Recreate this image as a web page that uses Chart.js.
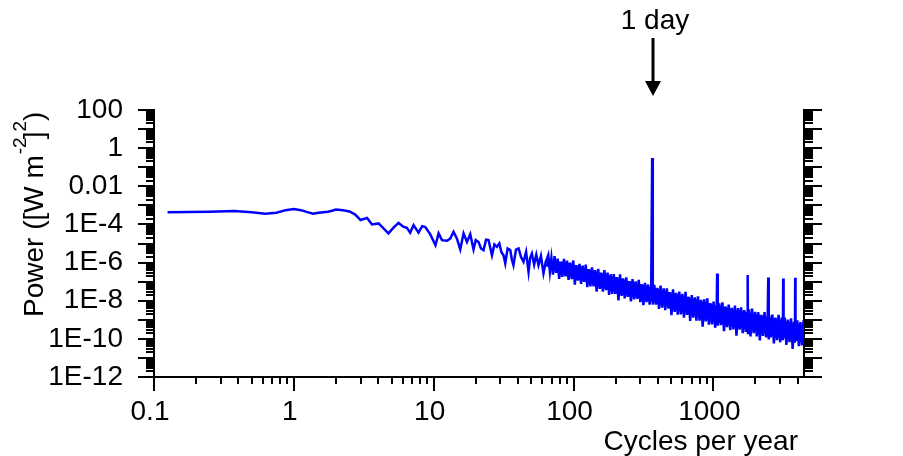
<!DOCTYPE html>
<html>
<head>
<meta charset="utf-8">
<script src="https://cdn.jsdelivr.net/npm/chart.js@4.4.1/dist/chart.umd.min.js"></script>
<style>
  html, body { margin: 0; padding: 0; background: #fff; }
  #wrap { width: 903px; height: 456px; }
</style>
</head>
<body>
<div id="wrap"><canvas id="chart-power" width="903" height="456"></canvas></div>
<script>
// ── power spectrum, log-log, daily cycle marked with an arrow ──
const X_TICKS = [0.1, 1, 10, 100, 1000];
const X_TICK_LABELS = ["0.1", "1", "10", "100", "1000"];
const Y_TICKS = [1e-12, 1e-10, 1e-8, 1e-6, 1e-4, 0.01, 1, 100];
const Y_TICK_LABELS = ["1E-12", "1E-10", "1E-8", "1E-6", "1E-4", "0.01", "1", "100"];
const X_MIN = 0.1, X_MAX = 4450;
const Y_MIN = 1e-12, Y_MAX = 100;
const DAY_FREQ = 365.25;

// cycles per year
const freq = [
  // low frequencies (thin line)
  0.125, 0.25, 0.375, 0.5, 0.625, 0.75, 0.875, 1, 1.125, 1.25,
  1.375, 1.5, 1.625, 1.75, 1.875, 2, 2.25, 2.5, 2.75, 3,
  3.34, 3.62, 4.04, 4.36, 4.75, 5.2, 5.61, 6.06, 6.43, 6.79,
  7.18, 7.79, 8.28, 8.71, 9.46, 10.3, 10.84, 11.47, 12.45, 13.14,
  13.88, 14.67, 15.49, 16.36, 17.3, 18.26, 19.28, 20.0, 20.94, 21.8,
  22.73, 23.7, 24.69, 25.4, 26.11, 27.2, 28.35, 29.5, 30.5, 31.6,
  32.5, 33.8, 35.3, 36.2, 37.2, 38.8, 40.5, 42.1, 43.9, 45.8,
  47.7, 49.0, 50.4, 52.3, 54.2, 56.2, 58.5, 61.0, 63.2,
  // dense noisy band
  66, 67.8, 69.5, 71.3, 73.2, 75.1, 77, 79, 81, 83.2,
  85.4, 87.6, 89.9, 92.2, 94.6, 97.1, 99.6, 102.2, 104.9, 107.6,
  110.4, 113.3, 116.2, 119.2, 122.3, 125.5, 128.8, 132.1, 135.6, 139.1,
  142.7, 146.4, 150.2, 154.1, 158.1, 162.2, 166.4, 170.8, 175.2, 179.8,
  184.5, 189.3, 194.2, 199.2, 204.4, 209.7, 215.2, 220.8, 226.5, 232.4,
  238.4, 244.6, 251, 257.5, 264.2, 271.1, 278.1, 285.4, 292.8, 300.4,
  308.2, 316.2, 324.4, 332.9, 341.5, 350.4, 359.5, 365.2, 369, 378.5,
  388.4, 398.5, 408.8, 419.5, 430.4, 441.6, 453.1, 464.8, 476.9, 489.3,
  502, 515.1, 528.5, 542.2, 556.3, 570.8, 585.6, 600.8, 616.5, 632.5,
  649, 665.8, 683.1, 700.9, 719.1, 737.8, 757, 776.7, 796.9, 817.6,
  838.9, 860.7, 883.1, 906, 929.6, 953.8, 978.6, 1004, 1030, 1057,
  1065, 1076, 1104, 1133, 1162, 1192, 1223, 1255, 1288, 1321,
  1356, 1391, 1427, 1464, 1502, 1541, 1581, 1623, 1665, 1708,
  1752, 1760, 1770, 1797, 1844, 1892, 1941, 1992, 2044, 2097,
  2151, 2207, 2265, 2324, 2384, 2446, 2470, 2490, 2510, 2576,
  2643, 2711, 2782, 2854, 2928, 3004, 3083, 3140, 3160, 3180,
  3245, 3330, 3416, 3505, 3597, 3690, 3786, 3830, 3850, 3870,
  3985, 4089, 4195, 4304, 4416, 4450,
];

// power, same order as freq
const power = [
  4.3e-4, 4.6e-4, 5.0e-4, 4.4e-4, 3.6e-4, 4.1e-4, 5.6e-4, 6.4e-4, 5.6e-4, 4.4e-4,
  3.6e-4, 4.1e-4, 4.4e-4, 4.6e-4, 5.2e-4, 6.1e-4, 5.6e-4, 4.8e-4, 3.3e-4, 1.7e-4,
  2.2e-4, 1.0e-4, 1.13e-4, 6.4e-5, 3.4e-5, 7.2e-5, 1.2e-4, 7.6e-5, 6.6e-5, 3.7e-5,
  9.2e-5, 3.7e-5, 8.1e-5, 7.2e-5, 3.0e-5, 8.1e-6, 3.4e-5, 1.5e-5, 1.4e-5, 1.8e-5,
  4.1e-5, 1.8e-5, 4.9e-6, 3.4e-5, 1.2e-5, 3.1e-5, 4.9e-6, 1.5e-5, 1.2e-5, 5.5e-6,
  4.5e-6, 1.6e-5, 1.5e-5, 6.0e-6, 2.4e-6, 9.0e-6, 6.7e-6, 1.0e-5, 3.5e-6, 2.4e-6,
  9.0e-7, 5.5e-6, 4.5e-6, 1.5e-6, 7.3e-7, 4.8e-6, 5.5e-6, 2.0e-6, 1.09e-6, 3.6e-6,
  3.25e-7, 1.8e-6, 3.0e-6, 8.0e-7, 2.6e-6, 7.3e-7, 2.2e-6, 2.7e-7, 1.0e-6,

  2.5e-6, 3.3e-7, 1.7e-6, 2.3e-7, 2.2e-6, 2.9e-7, 1.6e-6, 1.4e-7, 1.1e-6, 1.8e-7,
  1.55e-6, 1.9e-7, 1.26e-6, 1.23e-7, 1.0e-6, 1.35e-7, 1.29e-6, 6.9e-8, 7.4e-7, 1.12e-7,
  8.5e-7, 7.6e-8, 6.9e-7, 9.8e-8, 7.8e-7, 5.1e-8, 4.6e-7, 5.6e-8, 5.6e-7, 5.6e-8,
  4.0e-7, 3.0e-8, 4.7e-7, 4.2e-8, 3.0e-7, 2.95e-8, 4.0e-7, 3.6e-8, 2.95e-7, 2.0e-8,
  2.45e-7, 2.3e-8, 2.5e-7, 2.3e-8, 1.74e-7, 1.05e-8, 2.4e-7, 1.78e-8, 1.5e-7, 1.32e-8,
  1.66e-7, 1.58e-8, 1.07e-7, 9.1e-9, 1.38e-7, 1.17e-8, 1.05e-7, 1.26e-8, 1.23e-7, 8.3e-9,
  7.4e-8, 5.9e-9, 8.7e-8, 8.5e-9, 7.1e-8, 6.2e-9, 6.6e-8, 0.30, 6.3e-9, 6.8e-8,
  6.3e-9, 4.7e-8, 3.7e-9, 6.3e-8, 4.3e-9, 4.4e-8, 3.2e-9, 4.5e-8, 3.9e-9, 2.8e-8,
  1.74e-9, 3.9e-8, 2.6e-9, 2.6e-8, 1.86e-9, 3.0e-8, 1.9e-9, 2.3e-8, 1.29e-9, 2.9e-8,
  1.78e-9, 1.62e-8, 8.7e-10, 2.0e-8, 1.29e-9, 1.51e-8, 9.1e-10, 1.7e-8, 9.1e-10, 1.12e-8,
  4.4e-10, 1.2e-8, 8.3e-10, 1.32e-8, 5.5e-10, 7.6e-9, 5.8e-10, 9.1e-9, 3.8e-10, 5.2e-9,
  2.7e-7, 4.9e-10, 7.2e-9, 5.2e-10, 8.3e-9, 2.5e-10, 5.1e-9, 4.1e-10, 6.2e-9, 2.9e-10,
  4.2e-9, 3.1e-10, 5.6e-9, 1.45e-10, 4.1e-9, 3.0e-10, 4.5e-9, 2.0e-10, 3.2e-9, 2.3e-10,
  2.3e-9, 2.2e-7, 2.0e-10, 3.5e-9, 1.35e-10, 3.9e-9, 2.0e-10, 2.6e-9, 1.35e-10, 2.5e-9,
  8.3e-11, 1.82e-9, 1.41e-10, 2.5e-9, 1.2e-10, 1.29e-9, 1.66e-7, 9.3e-11, 1.74e-9, 1.2e-10,
  1.86e-9, 5.8e-11, 1.32e-9, 8.5e-11, 1.82e-9, 6.6e-11, 1.32e-9, 8.5e-11, 1.47e-7, 1.8e-10,
  1.32e-9, 4.8e-11, 1.02e-9, 6.8e-11, 1.2e-9, 3.0e-11, 7.9e-10, 6.3e-11, 1.58e-7, 8.5e-11,
  9.5e-10, 4.1e-11, 7.6e-10, 4.5e-11, 9.5e-10, 5.0e-11,
];

const bandFreq = [62, 85, 100, 150, 200, 300, 450, 600, 800, 1000, 1400, 2000, 3000, 4450];
const bandUpper = [1.3e-6, 1.1e-6, 7.9e-7, 3.1e-7, 1.7e-7, 7.4e-8, 3.2e-8, 1.86e-8, 1.0e-8, 6.2e-9, 3.6e-9, 2.0e-9, 9.8e-10, 5.4e-10];
const bandLower = [7.0e-7, 2.4e-7, 1.6e-7, 5.8e-8, 2.8e-8, 1.3e-8, 5.4e-9, 2.7e-9, 1.38e-9, 8.1e-10, 4.6e-10, 2.5e-10, 1.17e-10, 6.5e-11];

const FONT = '"Liberation Sans", Arial, sans-serif';
Chart.defaults.font.family = FONT;
Chart.defaults.color = "#000";

// tick marks (major per decade, minor 2..9), axis titles and the "1 day" arrow
const axisMarks = {
  id: "axisMarks",
  afterDraw(chart) {
    const { ctx, chartArea: a, scales } = chart;
    const x = scales.x, y = scales.y;
    ctx.save();
    ctx.strokeStyle = "#000";
    ctx.lineWidth = 2;
    ctx.beginPath();
    for (let e = -1; e <= 3; e++) {
      for (let m = 1; m <= 9; m++) {
        const v = m * Math.pow(10, e);
        if (v > X_MAX) break;
        const px = Math.round(x.getPixelForValue(v));
        ctx.moveTo(px, a.bottom);
        ctx.lineTo(px, a.bottom + (m === 1 ? 14 : 7));
      }
    }
    for (let e = -12; e <= 2; e++) {
      for (let m = 1; m <= 9; m++) {
        const v = m * Math.pow(10, e);
        if (v > Y_MAX * 1.0001) break;
        const py = Math.round(y.getPixelForValue(v));
        ctx.moveTo(a.left, py);
        ctx.lineTo(a.left - (m === 1 ? 16 : 8), py);
        ctx.moveTo(a.right, py);
        ctx.lineTo(a.right + (m === 1 ? 18 : 9), py);
      }
    }
    ctx.stroke();

    ctx.fillStyle = "#000";
    // x title
    ctx.font = `28px ${FONT}`;
    ctx.textAlign = "right";
    ctx.textBaseline = "alphabetic";
    ctx.fillText("Cycles per year", 798, 450);

    // y title with superscripts
    ctx.save();
    ctx.translate(43, 317);
    ctx.rotate(-Math.PI / 2);
    ctx.textAlign = "left";
    let cx = 0;
    const seg = (t, size, dy, dx) => {
      ctx.font = `${size}px ${FONT}`;
      cx += dx;
      ctx.fillText(t, cx, dy);
      cx += ctx.measureText(t).width;
    };
    seg("Power ([W m", 28, 0, 0);
    seg("-2", 19, -17, 1);
    seg("]", 28, 0, -2);
    seg("2", 19, -17, 0);
    seg(")", 28, 0, 0);
    ctx.restore();

    // daily cycle annotation
    const ax = Math.round(x.getPixelForValue(DAY_FREQ)) + 1;
    ctx.font = `28px ${FONT}`;
    ctx.textAlign = "center";
    ctx.fillText("1 day", ax + 2, 29);
    ctx.lineWidth = 3;
    ctx.beginPath();
    ctx.moveTo(ax, 38);
    ctx.lineTo(ax, 83);
    ctx.stroke();
    ctx.beginPath();
    ctx.moveTo(ax - 8, 81);
    ctx.lineTo(ax + 8, 81);
    ctx.lineTo(ax, 96);
    ctx.closePath();
    ctx.fill();
    ctx.restore();
  },
};

const BLUE = "#0000ff";

new Chart(document.getElementById("chart-power"), {
  type: "line",
  data: {
    datasets: [
      {
        data: bandFreq.map((f, i) => ({ x: f, y: bandUpper[i] })),
        borderWidth: 0,
        pointRadius: 0,
        backgroundColor: BLUE,
        fill: "+1",
      },
      {
        data: bandFreq.map((f, i) => ({ x: f, y: bandLower[i] })),
        borderWidth: 0,
        pointRadius: 0,
        fill: false,
      },
      {
        data: freq.map((f, i) => ({ x: f, y: power[i] })),
        borderColor: BLUE,
        borderWidth: 2.5,
        pointRadius: 0,
        tension: 0,
        fill: false,
      },
    ],
  },
  options: {
    responsive: false,
    animation: false,
    devicePixelRatio: 1,
    layout: { padding: { top: 110, left: 0, right: 0, bottom: 0 } },
    plugins: { legend: { display: false }, tooltip: { enabled: false } },
    scales: {
      x: {
        type: "logarithmic",
        position: "bottom",
        min: X_MIN,
        max: X_MAX,
        bounds: "data",
        afterBuildTicks: (s) => { s.ticks = X_TICKS.map((v) => ({ value: v })); },
        afterFit: (s) => { s.height = 79; },
        grid: { display: false, drawTicks: false, tickLength: 0 },
        border: { display: true, color: "#000", width: 2 },
        ticks: {
          autoSkip: false,
          maxRotation: 0,
          padding: 18,
          labelOffset: -4,
          font: { size: 28 },
          color: "#000",
          callback: (v, i) => X_TICK_LABELS[i],
        },
      },
      y: {
        type: "logarithmic",
        position: "left",
        min: Y_MIN,
        max: Y_MAX,
        bounds: "data",
        afterBuildTicks: (s) => { s.ticks = Y_TICKS.map((v) => ({ value: v })); },
        afterFit: (s) => { s.width = 154; },
        grid: { display: false, drawTicks: false, tickLength: 0 },
        border: { display: true, color: "#000", width: 2 },
        ticks: {
          autoSkip: false,
          padding: 31,
          font: { size: 28 },
          color: "#000",
          callback: (v, i) => Y_TICK_LABELS[i],
        },
      },
      y2: {
        type: "logarithmic",
        position: "right",
        min: Y_MIN,
        max: Y_MAX,
        bounds: "data",
        afterFit: (s) => { s.width = 99; },
        grid: { display: false, drawTicks: false, tickLength: 0 },
        border: { display: true, color: "#000", width: 2 },
        ticks: { display: false },
      },
    },
  },
  plugins: [axisMarks],
});
</script>
</body>
</html>
